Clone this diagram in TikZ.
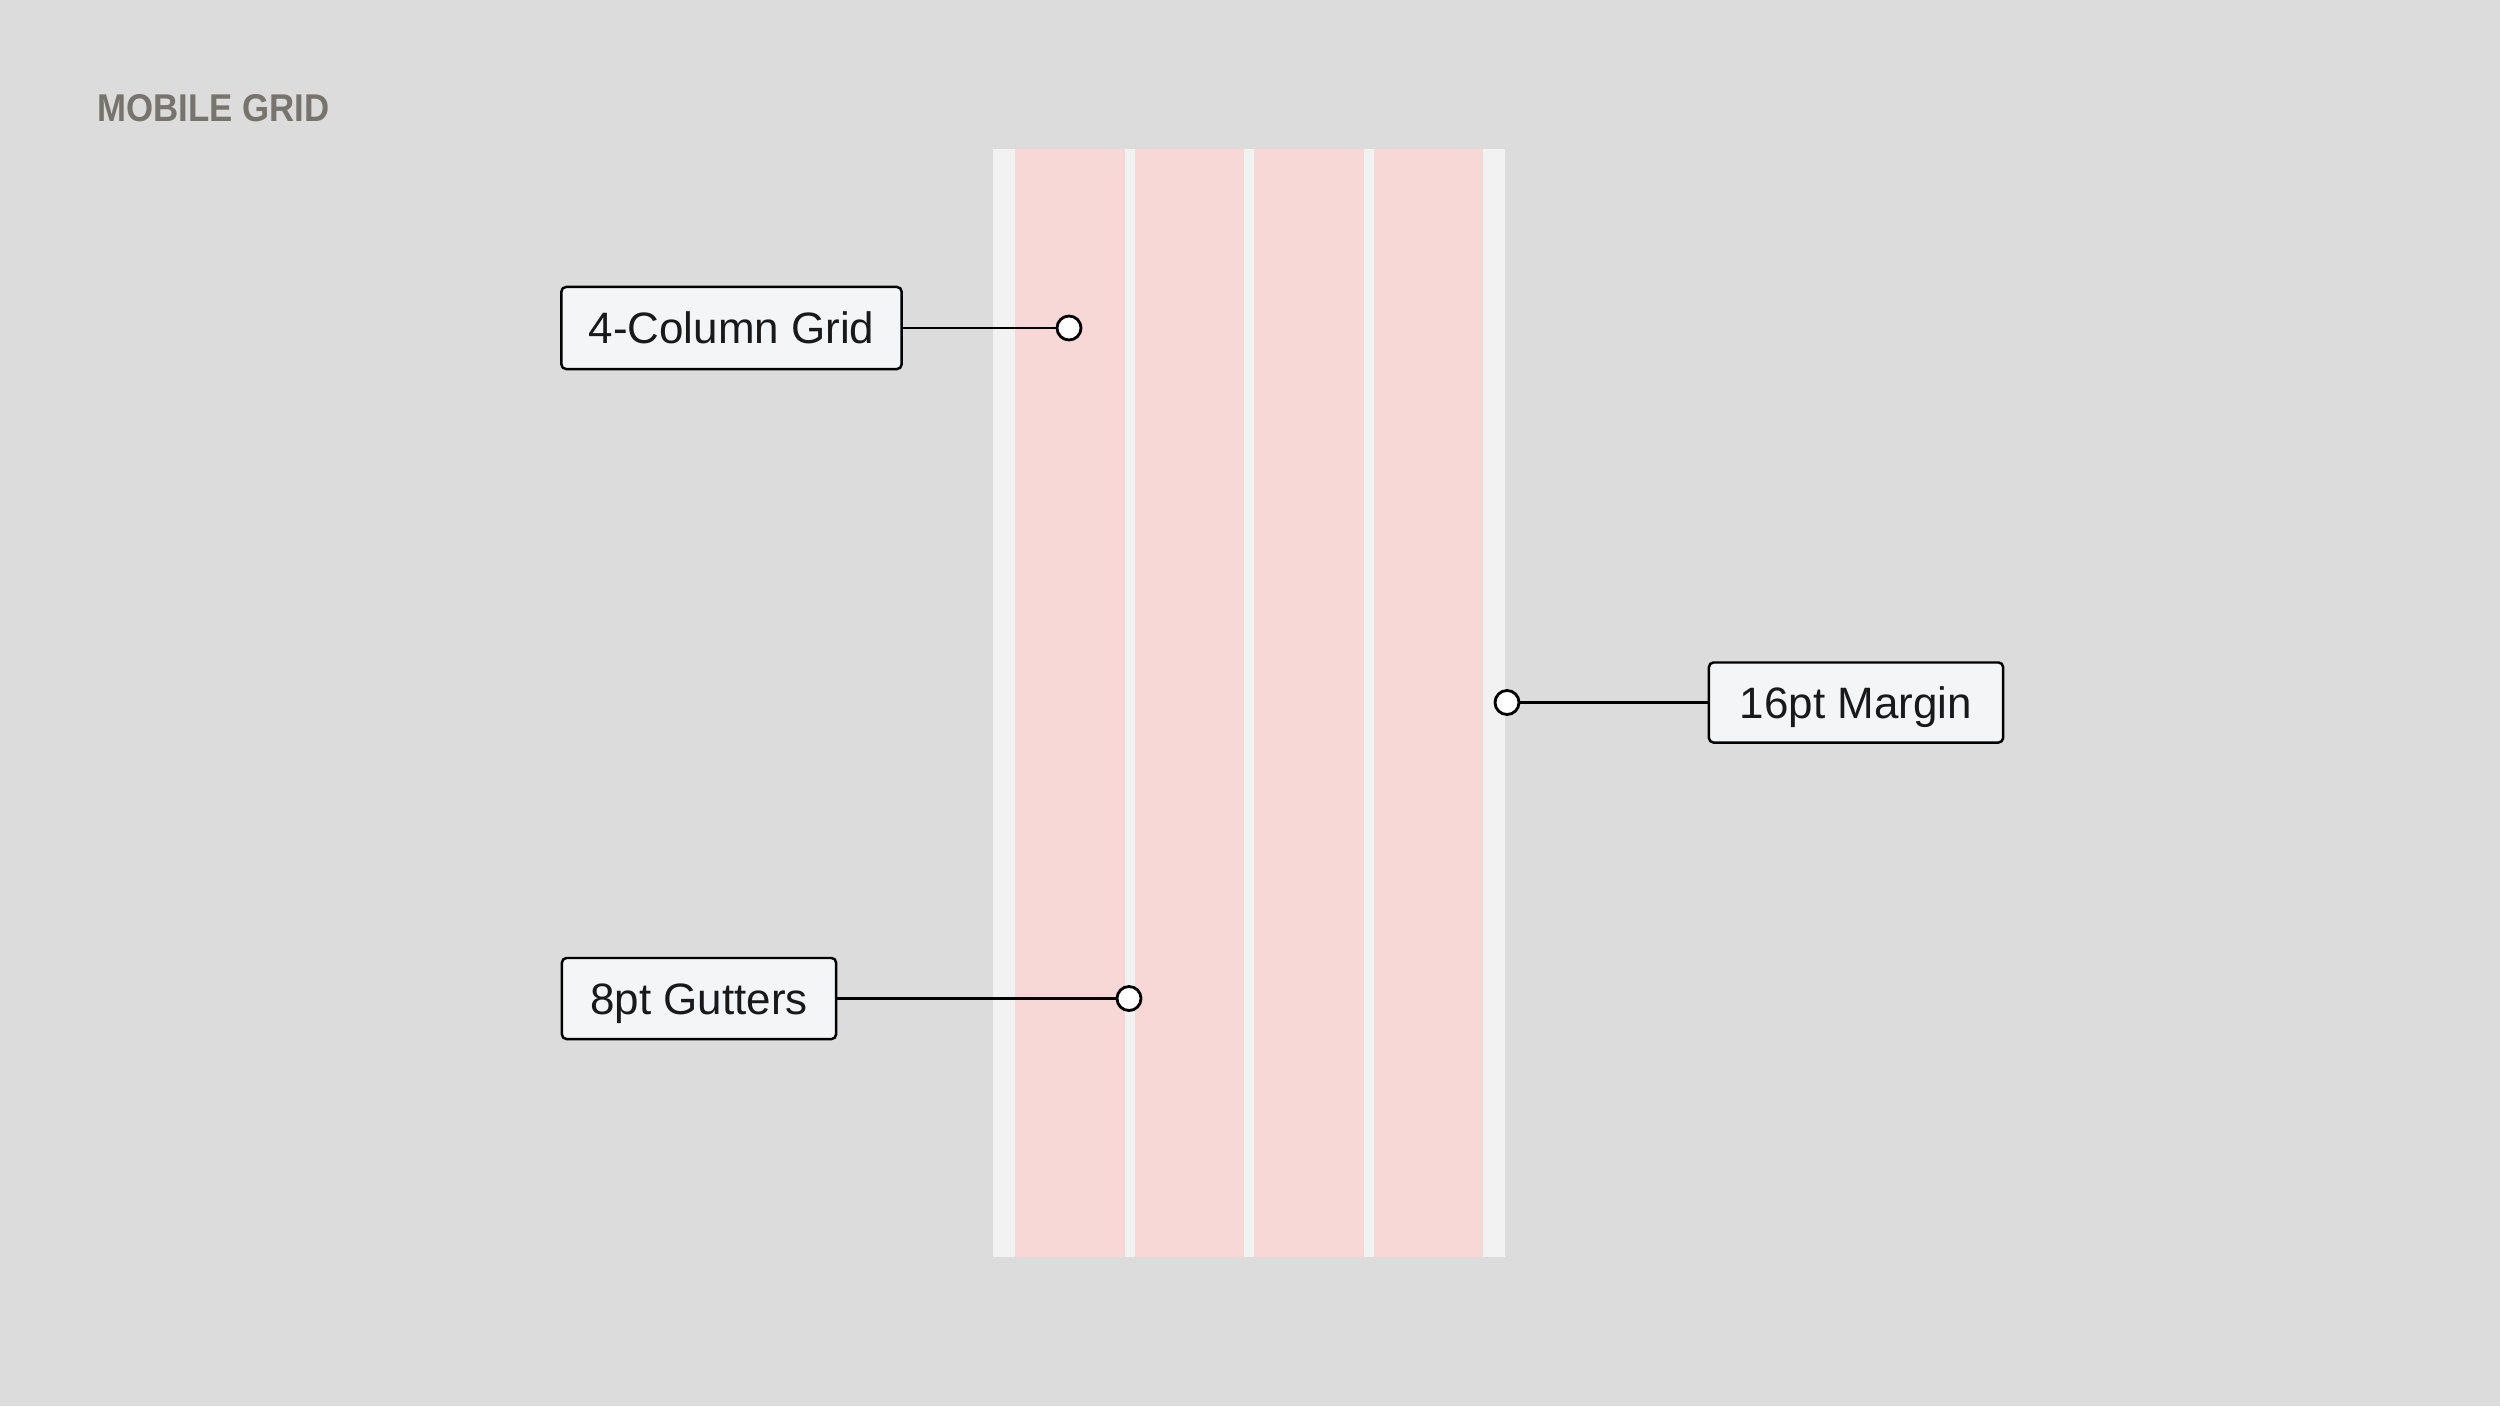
\documentclass[tikz,border=0pt]{standalone}
\usepackage{fontspec}
\setmainfont{Liberation Sans}
\newfontfamily\titlefont[FakeStretch=0.9]{Liberation Sans}
\definecolor{bgc}{HTML}{DCDCDC}
\definecolor{framec}{HTML}{F2F2F2}
\definecolor{colc}{HTML}{F8D7D7}
\definecolor{boxc}{HTML}{F4F5F7}
\definecolor{titlec}{HTML}{77736D}
\tikzset{
  labelbox/.style={draw=black, line width=0.7pt, fill=boxc, rounded corners=1.3pt, inner sep=0pt,
    font=\fontsize{12.5}{15}\selectfont, text=black!90, text height=8.95pt, text depth=0pt},
  pin/.style={circle, draw=black, line width=0.8pt, fill=white, minimum size=0.24cm, inner sep=0pt},
  conn/.style={draw=black, line width=0.8pt},
  gridcol/.style={fill=colc}
}
\begin{document}
\begin{tikzpicture}[x=0.01cm, y=-0.01cm]
\fill[bgc] (0,0) rectangle (2500,1406);
\useasboundingbox (0,0) rectangle (2500,1406);
% title
\node[anchor=base west, inner sep=0pt, text=titlec, font=\titlefont\bfseries\fontsize{11}{13}\selectfont] (title) at (97,121) {MOBILE GRID};
% phone frame and columns
\fill[framec] (993,149) rectangle (1505,1257);
\fill[gridcol] (1015,149) rectangle (1124.5,1257);
\fill[gridcol] (1134.5,149) rectangle (1244,1257);
\fill[gridcol] (1254,149) rectangle (1363.5,1257);
\fill[gridcol] (1373.5,149) rectangle (1483,1257);
% labels
\node[labelbox, minimum width=3.4cm, minimum height=0.82cm] (cols) at (731.5,328) {4-Column Grid};
\node[labelbox, minimum width=2.94cm, minimum height=0.80cm] (margin) at (1856,702.5) {16pt Margin};
\node[labelbox, minimum width=2.74cm, minimum height=0.81cm] (gutters) at (699,998.5) {8pt Gutters};
% pins
\node[pin] (pcols) at (1069,328) {};
\node[pin] (pmargin) at (1507,702.5) {};
\node[pin] (pgutters) at (1129,998.5) {};
% connectors
\draw[conn] (cols.east) -- (pcols.west);
\draw[conn] (margin.west) -- (pmargin.east);
\draw[conn] (gutters.east) -- (pgutters.west);
\end{tikzpicture}
\end{document}
